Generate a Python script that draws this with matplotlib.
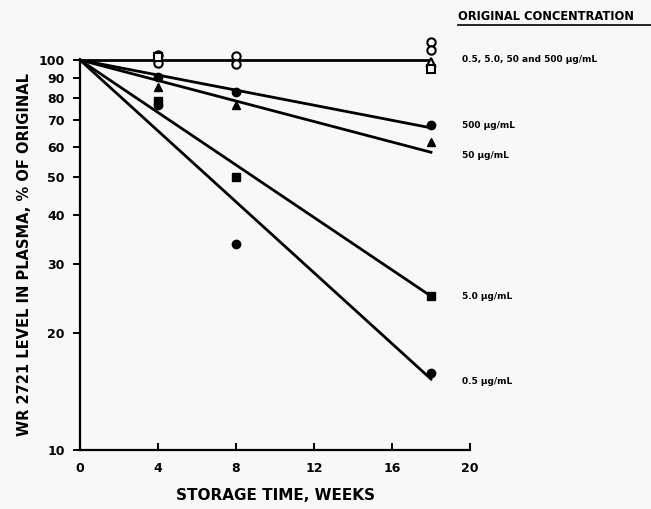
import matplotlib
matplotlib.use("Agg")
import matplotlib.pyplot as plt
import numpy as np

# ---- data ----
weeks = [4, 8, 18]
# open-symbol group (stable storage) per concentration
top_circle_a = [103, 102.4, 111.5]
top_circle_b = [98.5, 97.7, 106]
top_triangle = [None, None, 99]
top_square = [101.5, None, 95]
top_line_weeks = [0, 18]
top_line_vals = [100, 100]

# filled-symbol series
c500_vals = [90.5, 82.8, 68.0]
c50_vals = [85.3, 76.7, 61.6]
c5_vals = [78.5, 50.0, 24.8]
c05_vals = [76.7, 33.8, 15.8]

# fitted lines: start (week 0) and end (week 18) values
fit_weeks = [0, 18]
fit_500 = [100, 67.0]
fit_50 = [100, 58.0]
fit_5 = [100, 24.8]
fit_05 = [100, 15.2]

xticks = [0, 4, 8, 12, 16, 20]
yticks = [10, 20, 30, 40, 50, 60, 70, 80, 90, 100]

labels = ["0.5, 5.0, 50 and 500 µg/mL", "500 µg/mL", "50 µg/mL", "5.0 µg/mL", "0.5 µg/mL"]
label_vals = [100, 68, 57, 24.8, 15.0]

FONT = ["Liberation Sans Narrow", "DejaVu Sans"]
plt.rcParams["font.family"] = FONT
plt.rcParams["font.weight"] = "bold"

BG = "#f8f8f8"
fig = plt.figure(figsize=(6.51, 5.09), dpi=100, facecolor=BG)
ax = fig.add_axes([80/651, 1-450/509, 390/651, 390/509])
ax.set_facecolor(BG)
ax.set_yscale("log")
ax.set_xlim(0, 20)
ax.set_ylim(10, 100)

lw = 2.0
ax.plot(top_line_weeks, top_line_vals, color="black", lw=lw, clip_on=False, zorder=2)
for fv in (fit_500, fit_50, fit_5, fit_05):
    ax.plot(fit_weeks, fv, color="black", lw=lw, clip_on=False, zorder=2)

def pts(vals):
    xs = [w for w, v in zip(weeks, vals) if v is not None]
    ys = [v for v in vals if v is not None]
    return xs, ys

ms = 6
ax.plot(*pts(top_circle_a), ls="none", marker="o", ms=ms, mfc=BG, mec="black", mew=1.5, clip_on=False, zorder=3)
ax.plot(*pts(top_circle_b), ls="none", marker="o", ms=ms, mfc=BG, mec="black", mew=1.5, clip_on=False, zorder=3)
ax.plot(*pts(top_triangle), ls="none", marker="^", ms=ms, mfc=BG, mec="black", mew=1.5, clip_on=False, zorder=3)
ax.plot(*pts(top_square), ls="none", marker="s", ms=ms-0.5, mfc=BG, mec="black", mew=1.5, clip_on=False, zorder=3)

ax.plot(weeks, c500_vals, ls="none", marker="o", ms=ms, color="black", clip_on=False, zorder=3)
ax.plot(weeks, c50_vals, ls="none", marker="^", ms=ms, color="black", clip_on=False, zorder=3)
ax.plot(weeks, c5_vals, ls="none", marker="s", ms=ms-0.5, color="black", clip_on=False, zorder=3)
ax.plot(weeks, c05_vals, ls="none", marker="o", ms=ms, color="black", clip_on=False, zorder=3)

for s in ("top", "right"):
    ax.spines[s].set_visible(False)
for s in ("left", "bottom"):
    ax.spines[s].set_linewidth(1.6)

ax.set_xticks(xticks)
ax.set_xticklabels([str(t) for t in xticks], fontsize=9, fontweight="bold")
ax.set_yticks(yticks)
ax.set_yticklabels([str(t) for t in yticks], fontsize=9, fontweight="bold")
ax.yaxis.set_minor_locator(matplotlib.ticker.NullLocator())
ax.tick_params(axis="x", direction="in", length=5, width=1.4, pad=9)
ax.tick_params(axis="y", direction="out", length=5, width=1.4, pad=6)

ax.set_xlabel("STORAGE TIME, WEEKS", fontsize=11, fontweight="bold", labelpad=9)
ax.set_ylabel("WR 2721 LEVEL IN PLASMA, % OF ORIGINAL", fontsize=10.5, fontweight="bold", labelpad=5)

fig.text(458/651, 1-17/509, "ORIGINAL CONCENTRATION", fontsize=8.3, fontweight="bold",
         ha="left", va="center")
fig.add_artist(matplotlib.lines.Line2D([458/651, 651/651], [1-25/509, 1-25/509], color="black", lw=1.2))
for lab, v in zip(labels, label_vals):
    ax.text(19.6, v, lab, fontsize=6.5, fontweight="bold", ha="left", va="center", clip_on=False)

fig.savefig("out.png", dpi=100, facecolor=fig.get_facecolor())
